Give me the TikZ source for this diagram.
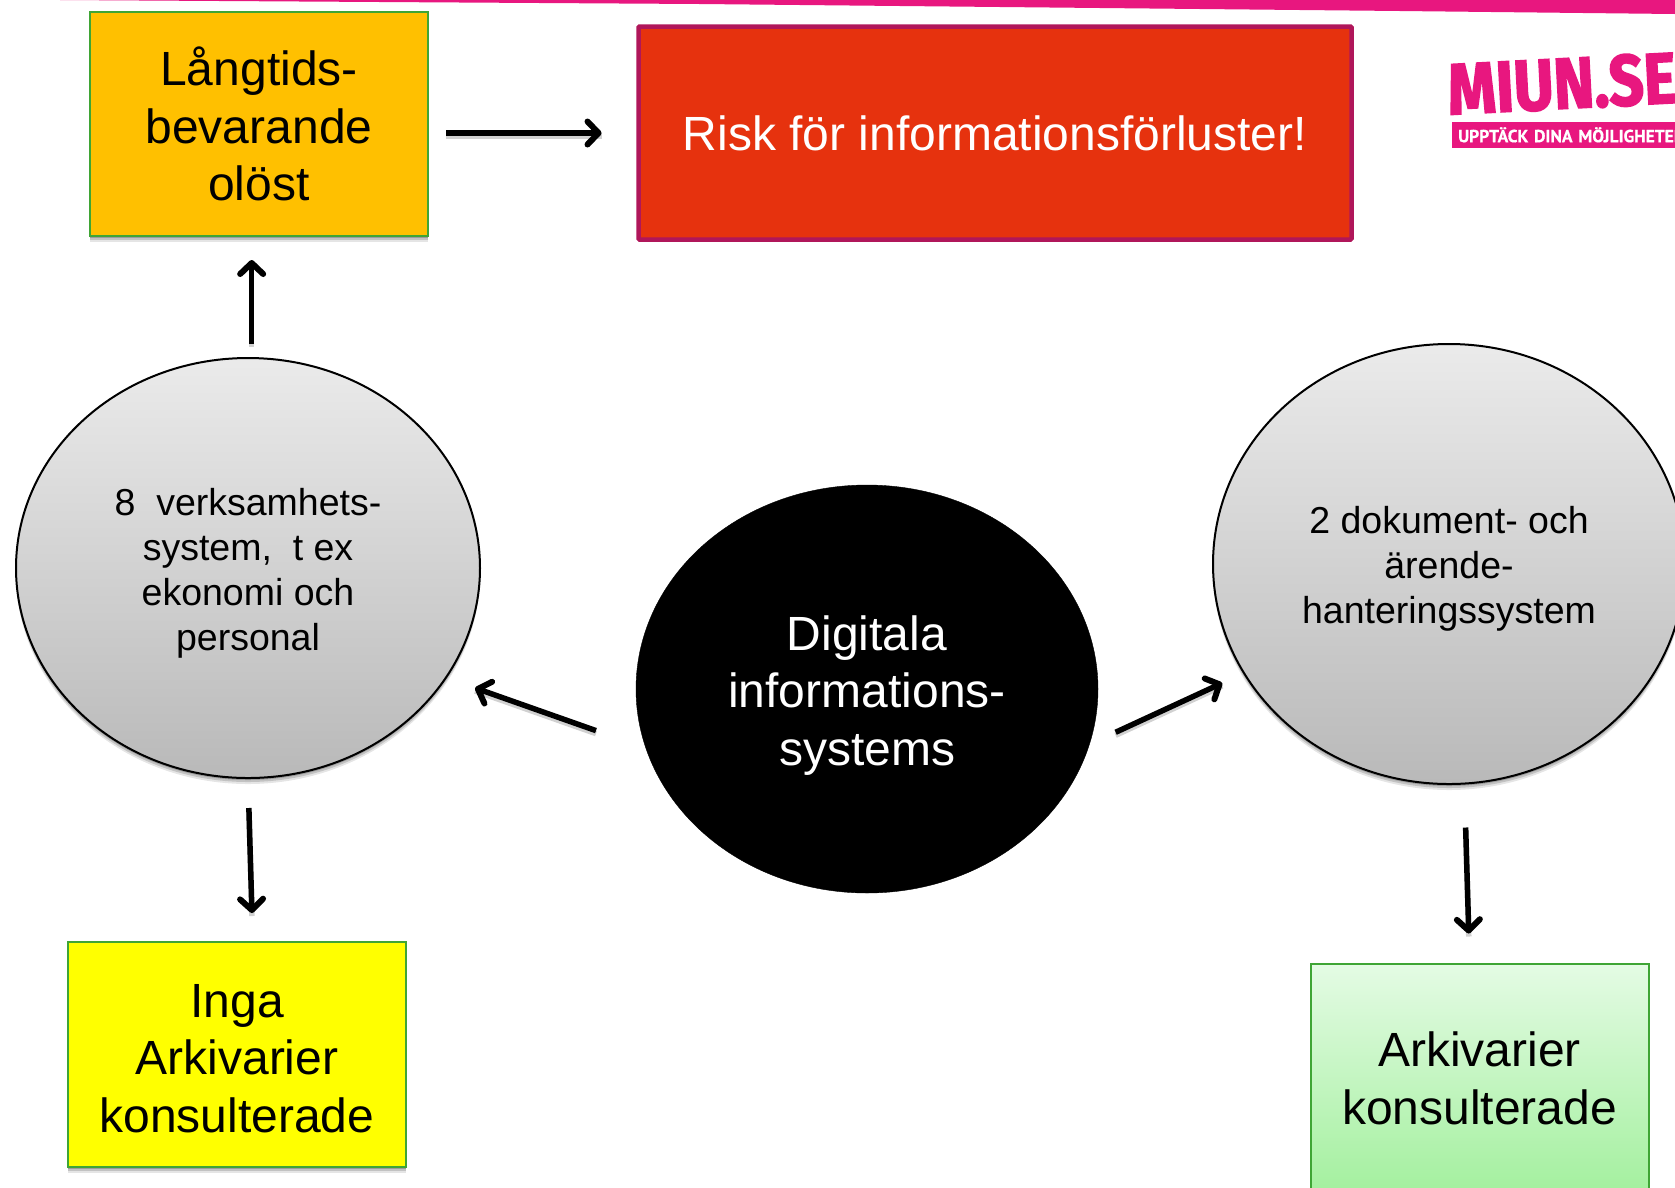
\documentclass[tikz,border=0pt]{standalone}
\usepackage{fontspec}
\setmainfont{Liberation Sans}
\newfontfamily\logofont[BoldFeatures={FakeBold=2.5}]{Fira Sans}
\newfontfamily\tagfont[BoldFeatures={FakeBold=0.6}]{PT Sans}
\usetikzlibrary{shapes.geometric,arrows.meta,shadows,calc}
\definecolor{miunpink}{HTML}{E8177F}
\definecolor{boxedge}{HTML}{3FA535}
\newcommand{\pushdown}[1]{\rule{0pt}{#1pt}}
\tikzset{
  softshadow/.style={
    drop shadow={shadow xshift=0pt,shadow yshift=-6pt,fill=black,opacity=0.10},
    drop shadow={shadow xshift=0pt,shadow yshift=-4pt,fill=black,opacity=0.15},
    drop shadow={shadow xshift=0pt,shadow yshift=-2pt,fill=black,opacity=0.20}},
  bigtext/.style={font=\fontsize{48}{57.5}\selectfont,align=center,text=black},
  midtext/.style={font=\fontsize{37.5}{45}\selectfont,align=center,text=black},
  flatbox/.style={rectangle,draw=boxedge,line width=2pt,inner sep=0pt,outer sep=0pt,softshadow},
  grayball/.style={ellipse,draw=black,line width=2pt,inner sep=0pt,outer sep=0pt,top color=gray!16,bottom color=gray!55,softshadow,midtext},
  conn/.style={line width=5.5pt,draw=black,-{Straight Barb[length=11pt,width=23pt,line width=6pt,round]},
     preaction={draw=black,draw opacity=0.18,line width=5.5pt,transform canvas={yshift=-3pt},-}},
}
\begin{document}
\begin{tikzpicture}[x=1pt,y=-1pt]
\useasboundingbox (0,0) rectangle (1675,1187);
\clip (0,0) rectangle (1675,1187);
\fill[white] (0,0) rectangle (1675,1187);
% top band
\fill[miunpink] (60,0) -- (700,4) -- (1400,11) -- (1675,14) -- (1675,0) -- cycle;
% logo
\node[name=logotext,anchor=south west,inner sep=0pt,rotate=3,text=miunpink,font=\logofont\bfseries\fontsize{72}{72}\selectfont,xscale=0.85] at (1449,116) {MIUN.SE};
\node[name=logotag,anchor=north west,rectangle,fill=miunpink,text=white,minimum height=26pt,minimum width=240pt,inner xsep=6pt,inner ysep=0pt,text width=228pt,font=\tagfont\bfseries\fontsize{17.5}{20}\selectfont] at (1452,122) {\raisebox{1pt}{UPPTÄCK\ DINA\ MÖJLIGHETER}};
% boxes
\node[name=orange,flatbox,fill={rgb,255:red,255;green,192;blue,0},minimum width=338pt,minimum height=224pt,bigtext] at (259,124) {Långtids-\\bevarande\\olöst};
\node[name=red,rectangle,draw={rgb,255:red,176;green,22;blue,90},line width=4.5pt,rounded corners=1pt,inner sep=0pt,outer sep=0pt,fill={rgb,255:red,230;green,50;blue,14},minimum width=713pt,minimum height=213pt,font=\fontsize{48}{57.5}\selectfont,text=white] at (995,133) {Risk för informationsförluster!};
\node[name=yellow,flatbox,fill={rgb,255:red,255;green,255;blue,0},minimum width=338pt,minimum height=225pt,bigtext] at (237,1054.5) {\pushdown{41}Inga\\Arkivarier\\konsulterade};
\node[name=green,flatbox,top color={rgb,255:red,228;green,251;blue,228},bottom color={rgb,255:red,165;green,240;blue,160},minimum width=338pt,minimum height=225pt,bigtext] at (1479.5,1076) {\pushdown{39}Arkivarier\\konsulterade};
% ellipses
\node[name=left,grayball,minimum width=464pt,minimum height=420pt] at (248,568) {\pushdown{37}8\ \ verksamhets-\\system,\ \ t ex\\ekonomi och\\personal};
\node[name=right,grayball,minimum width=472pt,minimum height=440pt] at (1449,564) {\pushdown{37}2 dokument- och\\ärende-\\hanteringssystem};
\node[name=black,ellipse,fill=black,draw=black,inner sep=0pt,outer sep=0pt,minimum width=462pt,minimum height=408pt,bigtext,text=white] at (867,689) {\pushdown{47}Digitala\\informations-\\systems};
% connectors
\draw[conn,shorten <=18pt,shorten >=37pt] (orange.east |- red.west) -- (red.west);
\draw[conn,shorten <=14pt,shorten >=24pt] (left.89.2) -- (left.89.2 |- orange.south);
\draw[conn,shorten <=53pt,shorten >=31pt] (black.195.4) -- (left.-29.4);
\draw[conn,shorten <=29pt,shorten >=24pt] (black.-14.2) -- (right.208.5);
\draw[conn,shorten <=30pt,shorten >=29pt] (left.south) -- (yellow.82.4);
\draw[conn,shorten <=44pt,shorten >=30pt] (right.-86) -- (green.95.5);
\end{tikzpicture}
\end{document}
